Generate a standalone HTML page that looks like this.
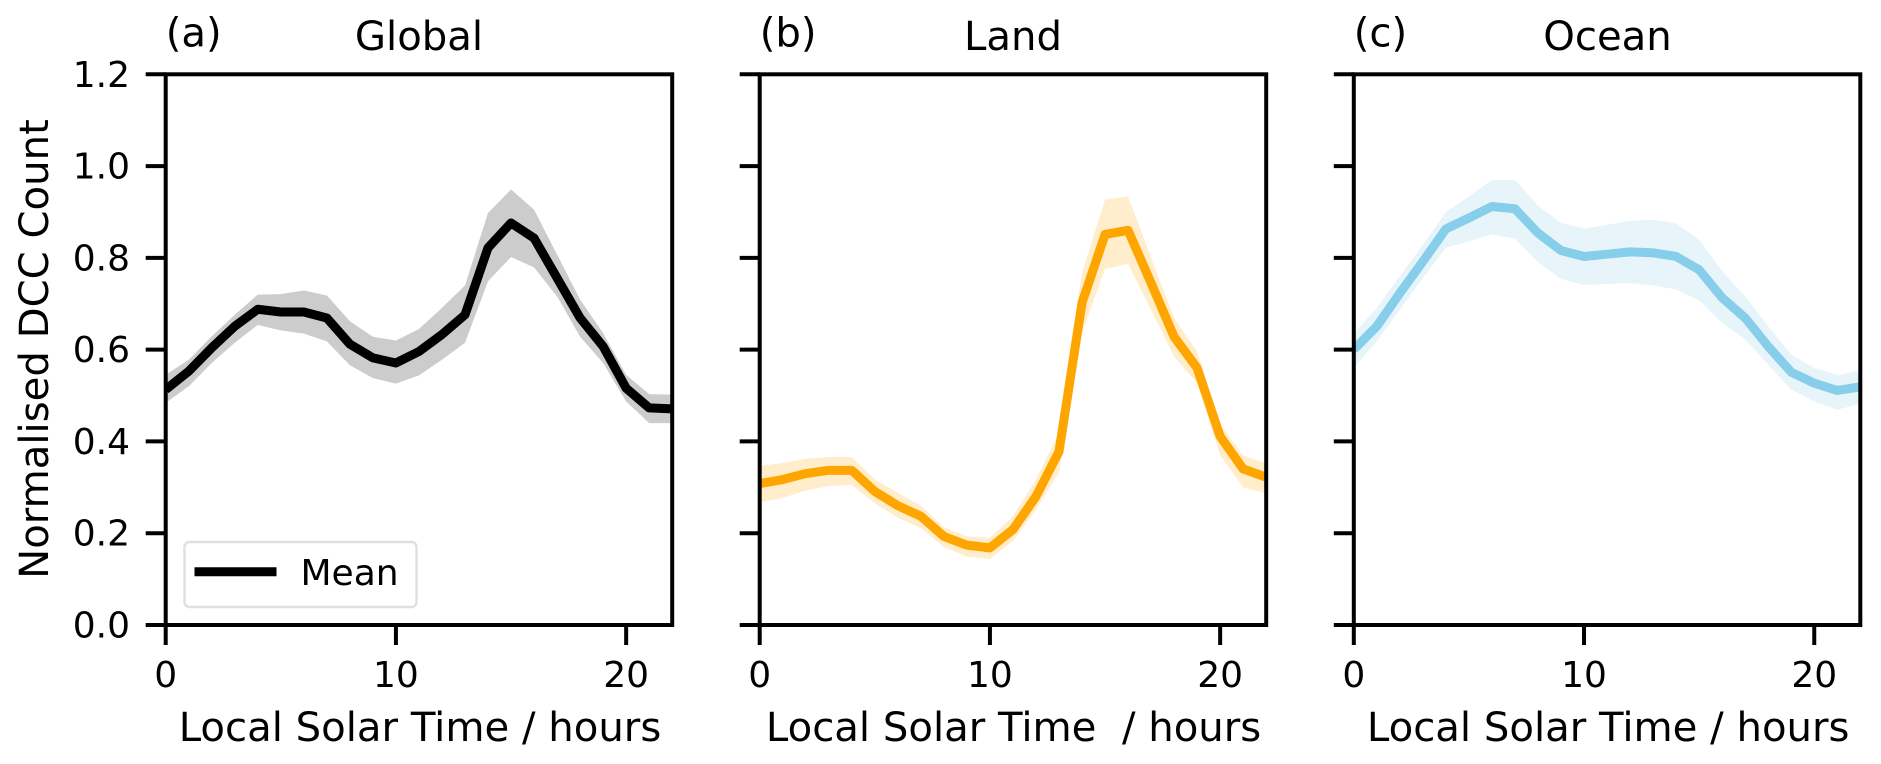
<!DOCTYPE html>
<html>
<head>
<meta charset="utf-8">
<title>Normalised DCC Count</title>
<style>
html,body{margin:0;padding:0;background:#fff;width:1881px;height:764px;overflow:hidden}
svg{display:block}
text{font-family:"DejaVu Sans","Liberation Sans",sans-serif;fill:#000}
.lab{font-size:40.2px}
.tick{font-size:36px}
</style>
</head>
<body>
<svg id="chart" width="1881" height="764" viewBox="0 0 1881 764" xmlns="http://www.w3.org/2000/svg">
  <rect width="1881" height="764" fill="#fff"/>
  <text class="lab" transform="translate(48,349) rotate(-90)" text-anchor="middle">Normalised DCC Count</text>
  <text class="lab" x="165.7" y="46.5">(a)</text>
  <text class="lab" x="419" y="50" text-anchor="middle">Global</text>
  <text class="lab" x="420" y="741" text-anchor="middle">Local Solar Time / hours</text>
  <text class="lab" x="759.7" y="46.5">(b)</text>
  <text class="lab" x="1013" y="50" text-anchor="middle">Land</text>
  <text class="lab" x="1013.6" y="741" text-anchor="middle" xml:space="preserve" style="white-space:pre">Local Solar Time  / hours</text>
  <text class="lab" x="1353.7" y="46.5">(c)</text>
  <text class="lab" x="1607.5" y="50" text-anchor="middle">Ocean</text>
  <text class="lab" x="1608.2" y="741" text-anchor="middle">Local Solar Time / hours</text>
  <g id="panels"></g>
  <g id="legend">
    <rect x="184.5" y="542" width="232" height="65" rx="5" ry="5" fill="#fff" stroke="#e0e0e0" stroke-width="2.5"/>
    <line x1="194.5" x2="276.5" y1="571.7" y2="571.7" stroke="#000" stroke-width="9"/>
    <text class="tick" x="300.5" y="585">Mean</text>
  </g>
</svg>
<script>
const hours = [0,1,2,3,4,5,6,7,8,9,10,11,12,13,14,15,16,17,18,19,20,21,22];
const xTicks = [0,10,20];
const yTicks = [0,0.2,0.4,0.6,0.8,1.0,1.2];
const yTickLabels = ['0.0','0.2','0.4','0.6','0.8','1.0','1.2'];

const globalMean  = [.513,.553,.604,.651,.688,.682,.682,.669,.612,.582,.571,.596,.633,.676,.822,.876,.843,.756,.669,.607,.516,.473,.471];
const globalUpper = [.545,.578,.629,.676,.720,.721,.729,.718,.662,.628,.620,.645,.691,.740,.898,.949,.905,.807,.709,.636,.545,.503,.502];
const globalLower = [.484,.520,.571,.615,.654,.642,.635,.618,.566,.538,.526,.544,.578,.615,.749,.802,.779,.716,.628,.571,.487,.440,.440];

const landMean  = [.308,.317,.330,.337,.337,.291,.260,.237,.193,.174,.168,.208,.280,.378,.702,.851,.860,.745,.628,.560,.411,.340,.322];
const landUpper = [.347,.353,.362,.366,.366,.317,.288,.260,.213,.193,.190,.237,.317,.419,.767,.927,.934,.800,.669,.596,.437,.369,.353];
const landLower = [.267,.277,.293,.303,.305,.265,.234,.211,.170,.149,.144,.183,.252,.332,.636,.776,.787,.687,.585,.527,.370,.300,.287];

const oceanMean  = [.600,.651,.723,.792,.863,.887,.912,.907,.854,.816,.803,.808,.813,.811,.803,.774,.713,.669,.607,.551,.527,.511,.519];
const oceanUpper = [.636,.691,.760,.829,.900,.934,.970,.970,.914,.876,.864,.872,.881,.883,.875,.840,.771,.716,.651,.589,.560,.545,.554];
const oceanLower = [.560,.618,.687,.756,.822,.836,.851,.842,.791,.754,.741,.743,.745,.740,.731,.707,.658,.622,.567,.513,.487,.469,.482];

const NS = 'http://www.w3.org/2000/svg';
const TOP = 74.3, BOTTOM = 625, Y_MAX = 1.2, X_MAX = 22, PANEL_W = 506.5;
const TICK_LEN = 20, SPINE_W = 4;

function yScale(v){ return BOTTOM - (v / Y_MAX) * (BOTTOM - TOP); }
function xScale(left, h){ return left + (h / X_MAX) * PANEL_W; }

function make(tag, attrs, parent){
  const el = document.createElementNS(NS, tag);
  for (const k in attrs) el.setAttribute(k, attrs[k]);
  parent.appendChild(el);
  return el;
}

function pointsOf(left, xs, ys){
  return xs.map((h, i) => xScale(left, h).toFixed(2) + ',' + yScale(ys[i]).toFixed(2));
}

function drawPanel(key, left, mean, upper, lower, color, bandColor, showYLabels){
  const root = document.getElementById('panels');
  const g = make('g', {}, root);
  
  

  const defs = make('defs', {}, g);
  const clip = make('clipPath', {id: key + '-clip'}, defs);
  make('rect', {x: left, y: TOP, width: PANEL_W, height: BOTTOM - TOP}, clip);

  const band = make('polygon', {
    points: pointsOf(left, hours, upper).concat(pointsOf(left, hours, lower).reverse()).join(' '),
    fill: bandColor,
    'clip-path': 'url(#' + key + '-clip)'
  }, g);
  
  

  const line = make('polyline', {
    points: pointsOf(left, hours, mean).join(' '),
    fill: 'none',
    stroke: color,
    'stroke-width': 9,
    'stroke-linejoin': 'round',
    'clip-path': 'url(#' + key + '-clip)'
  }, g);
  
  

  yTicks.forEach((v, i) => {
    const y = yScale(v);
    const t = make('line', {x1: left - TICK_LEN, x2: left, y1: y, y2: y, stroke: '#000', 'stroke-width': SPINE_W}, g);
    
    
    if (showYLabels) {
      const l = make('text', {x: left - 35.7, y: y + 12.5, 'text-anchor': 'end', class: 'tick'}, g);
      
      
      l.textContent = yTickLabels[i];
    }
  });

  xTicks.forEach(h => {
    const x = xScale(left, h);
    const t = make('line', {x1: x, x2: x, y1: BOTTOM, y2: BOTTOM + TICK_LEN, stroke: '#000', 'stroke-width': SPINE_W}, g);
    
    
    const l = make('text', {x: x, y: 687, 'text-anchor': 'middle', class: 'tick'}, g);
    
    
    l.textContent = String(h);
  });

  const frame = make('rect', {
    x: left, y: TOP, width: PANEL_W, height: BOTTOM - TOP,
    fill: 'none', stroke: '#000', 'stroke-width': SPINE_W
  }, g);
  
  
}

drawPanel('global', 165.7, globalMean, globalUpper, globalLower, '#000000', '#cccccc', true);
drawPanel('land', 759.7, landMean, landUpper, landLower, '#ffa500', '#ffedcc', false);
drawPanel('ocean', 1353.8, oceanMean, oceanUpper, oceanLower, '#87ceeb', '#e7f5fb', false);
</script>
</body>
</html>
